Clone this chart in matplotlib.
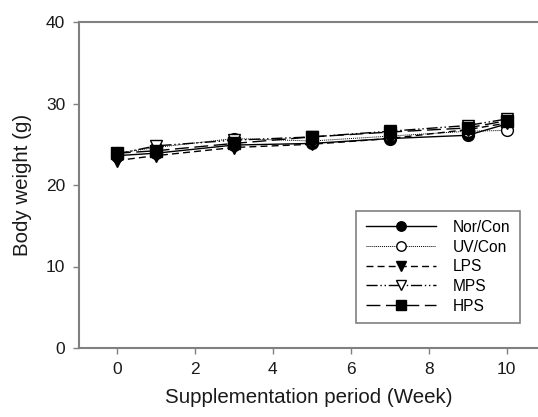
import matplotlib
matplotlib.use("Agg")
import matplotlib.pyplot as plt

plt.rcParams['font.family'] = ['Liberation Sans', 'DejaVu Sans']

weeks = [0, 1, 3, 5, 7, 9, 10]
nor_con = [23.6, 23.9, 24.9, 25.1, 25.7, 26.1, 27.5]
uv_con = [23.9, 24.6, 25.7, 25.4, 26.0, 26.6, 26.7]
lps = [23.0, 23.6, 24.6, 25.0, 25.7, 26.8, 27.6]
mps = [23.8, 24.8, 25.5, 25.9, 26.6, 27.3, 28.1]
hps = [23.9, 24.2, 25.1, 25.9, 26.5, 27.0, 27.9]

fig = plt.figure(figsize=(5.38, 4.17), dpi=100)
ax = fig.add_axes([79/538, 69/417, 1 - 79/538, (348-22)/417])

ms = 8.5
kw = dict(color='black', markersize=ms, linewidth=1.0, markeredgewidth=1.0)
ax.plot(weeks, nor_con, linestyle='-', marker='o', label='Nor/Con', **kw)
ax.plot(weeks, uv_con, linestyle=(0, (1, 1)), marker='o', markerfacecolor='white',
        label='UV/Con', color='black', markersize=ms, linewidth=0.7, markeredgewidth=1.0)
ax.plot(weeks, lps, linestyle=(0, (5, 3)), marker='v', label='LPS', **kw)
ax.plot(weeks, mps, linestyle=(0, (8, 2, 1, 2, 1, 2)), marker='v', markerfacecolor='white',
        label='MPS', **kw)
ax.plot(weeks, hps, linestyle=(0, (10, 4)), marker='s', label='HPS', **kw)

ax.set_xlim(-0.97, 10.8)
ax.set_ylim(0, 40)
ax.set_xticks([0, 2, 4, 6, 8, 10])
ax.set_yticks([0, 10, 20, 30, 40])
ax.spines['right'].set_visible(False)
for s in ['left', 'bottom', 'top']:
    ax.spines[s].set_color('#808080')
    ax.spines[s].set_linewidth(1.5)
ax.tick_params(direction='out', length=4, width=1, color='#808080', labelsize=12.5,
               labelcolor='#1a1a1a', pad=6)
ax.set_xlabel('Supplementation period (Week)', fontsize=14.8, color='#1a1a1a', labelpad=8)
ax.set_ylabel('Body weight (g)', fontsize=14.8, color='#1a1a1a', labelpad=10)

leg = ax.legend(loc='lower left', bbox_to_anchor=(0.604, 0.077), fontsize=11.2,
                handlelength=4.5, fancybox=False, framealpha=1, borderpad=0.6,
                labelspacing=0.3, handletextpad=1.1, borderaxespad=0, markerscale=0.8)
leg.get_frame().set_edgecolor('#808080')
leg.get_frame().set_linewidth(1.2)

fig.savefig('out.png', dpi=100)
